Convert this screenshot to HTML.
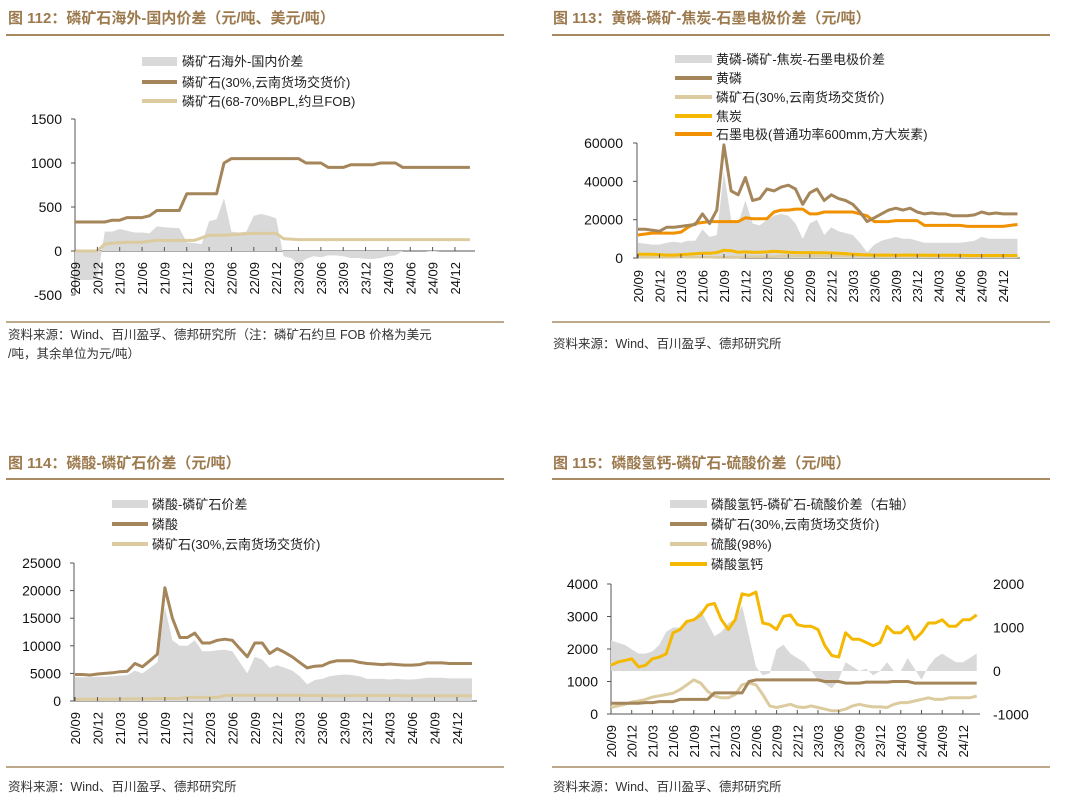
<!DOCTYPE html>
<html><head><meta charset="utf-8">
<style>
html,body{margin:0;padding:0;background:#fff;}
svg{display:block;font-family:"Liberation Sans","Noto Sans CJK SC",sans-serif;}
.ttl{font-size:15px;font-weight:bold;fill:#9c7a4e;}
.lg{font-size:13px;fill:#222;}
.src{font-size:12.5px;fill:#333;}
.tk{font-size:14px;fill:#111;}
.xl{font-size:13px;fill:#111;}
</style></head>
<body>
<svg id="root" width="1080" height="801" viewBox="0 0 1080 801">
<!-- Chart 112 -->
<text class="ttl" x="8" y="23">图 112：磷矿石海外-国内价差（元/吨、美元/吨）</text>
<line x1="6" y1="35" x2="504" y2="35" stroke="#a88b63" stroke-width="2"/>
<rect x="142" y="57" width="35" height="9" fill="#d9d9d9"/>
<text class="lg" x="182" y="66">磷矿石海外-国内价差</text>
<line x1="142" y1="82" x2="177" y2="82" stroke="#a5855a" stroke-width="4"/>
<text class="lg" x="182" y="87">磷矿石(30%,云南货场交货价)</text>
<line x1="142" y1="101" x2="177" y2="101" stroke="#dccb9f" stroke-width="4"/>
<text class="lg" x="182" y="106">磷矿石(68-70%BPL,约旦FOB)</text>
<line x1="6" y1="322" x2="504" y2="322" stroke="#a88b63" stroke-width="1.5"/>
<text class="src" x="8" y="339">资料来源：Wind、百川盈孚、德邦研究所（注：磷矿石约旦 FOB 价格为美元</text>
<text class="src" x="8" y="358">/吨，其余单位为元/吨）</text>

<!-- Chart 113 -->
<text class="ttl" x="553" y="23">图 113：黄磷-磷矿-焦炭-石墨电极价差（元/吨）</text>
<line x1="552" y1="35" x2="1050" y2="35" stroke="#a88b63" stroke-width="2"/>
<rect x="675" y="55" width="37" height="8" fill="#d9d9d9"/>
<text class="lg" x="716" y="64">黄磷-磷矿-焦炭-石墨电极价差</text>
<line x1="675" y1="78" x2="712" y2="78" stroke="#a5855a" stroke-width="4"/>
<text class="lg" x="716" y="83">黄磷</text>
<line x1="675" y1="97" x2="712" y2="97" stroke="#dccb9f" stroke-width="4"/>
<text class="lg" x="716" y="102">磷矿石(30%,云南货场交货价)</text>
<line x1="675" y1="116" x2="712" y2="116" stroke="#f5b800" stroke-width="4"/>
<text class="lg" x="716" y="121">焦炭</text>
<line x1="675" y1="134" x2="712" y2="134" stroke="#f29100" stroke-width="4"/>
<text class="lg" x="716" y="139">石墨电极(普通功率600mm,方大炭素)</text>
<line x1="552" y1="322" x2="1050" y2="322" stroke="#a88b63" stroke-width="1.5"/>
<text class="src" x="553" y="348">资料来源：Wind、百川盈孚、德邦研究所</text>

<!-- Chart 114 -->
<text class="ttl" x="8" y="468">图 114：磷酸-磷矿石价差（元/吨）</text>
<line x1="6" y1="479" x2="504" y2="479" stroke="#a88b63" stroke-width="2"/>
<rect x="112" y="500" width="36" height="8" fill="#d9d9d9"/>
<text class="lg" x="152" y="509">磷酸-磷矿石价差</text>
<line x1="112" y1="524" x2="148" y2="524" stroke="#a5855a" stroke-width="4"/>
<text class="lg" x="152" y="529">磷酸</text>
<line x1="112" y1="544" x2="148" y2="544" stroke="#dccb9f" stroke-width="4"/>
<text class="lg" x="152" y="549">磷矿石(30%,云南货场交货价)</text>
<line x1="6" y1="767" x2="504" y2="767" stroke="#a88b63" stroke-width="1.5"/>
<text class="src" x="8" y="791">资料来源：Wind、百川盈孚、德邦研究所</text>

<!-- Chart 115 -->
<text class="ttl" x="553" y="468">图 115：磷酸氢钙-磷矿石-硫酸价差（元/吨）</text>
<line x1="552" y1="479" x2="1050" y2="479" stroke="#a88b63" stroke-width="2"/>
<rect x="670" y="500" width="37" height="8" fill="#d9d9d9"/>
<text class="lg" x="711" y="509">磷酸氢钙-磷矿石-硫酸价差（右轴）</text>
<line x1="670" y1="524" x2="707" y2="524" stroke="#a5855a" stroke-width="4"/>
<text class="lg" x="711" y="529">磷矿石(30%,云南货场交货价)</text>
<line x1="670" y1="544" x2="707" y2="544" stroke="#dccb9f" stroke-width="4"/>
<text class="lg" x="711" y="549">硫酸(98%)</text>
<line x1="670" y1="564" x2="707" y2="564" stroke="#f5b800" stroke-width="4"/>
<text class="lg" x="711" y="569">磷酸氢钙</text>
<line x1="552" y1="767" x2="1050" y2="767" stroke="#a88b63" stroke-width="1.5"/>
<text class="src" x="553" y="791">资料来源：Wind、百川盈孚、德邦研究所</text>
</svg>

<script>
// ---- shared category labels ----
const monthLabels = ["20/09","20/12","21/03","21/06","21/09","21/12","22/03","22/06","22/09","22/12","23/03","23/06","23/09","23/12","24/03","24/06","24/09","24/12"];

// ---- Chart 112 data ----
const c1Ticks = [1500,1000,500,0,-500];
const c1Domestic = [330,330,330,330,330,350,350,380,380,380,400,460,460,460,460,650,650,650,650,650,1000,1050,1050,1050,1050,1050,1050,1050,1050,1050,1050,1000,1000,1000,950,950,950,980,980,980,980,1000,1000,1000,950,950,950,950,950,950,950,950,950,950];
const c1Fob = [0,0,0,0,80,90,95,100,100,100,110,120,120,120,120,120,120,150,180,180,180,185,190,195,200,200,200,200,140,135,130,130,130,130,130,130,130,130,130,130,130,130,130,130,130,130,130,130,130,130,130,130,130,130];
const c1Spread = [-320,-330,-330,-320,220,220,250,230,210,210,200,280,270,265,260,100,90,80,340,360,600,220,210,220,400,420,400,370,-60,-80,-150,-90,-60,-70,-50,-50,-60,-80,-80,-90,-90,-80,-60,-50,0,0,0,0,-10,0,0,0,0,0];

// ---- Chart 113 data ----
const c2Ticks = [60000,40000,20000,0];
const c2YellowP = [15000,15000,14500,14000,16000,16000,16500,17000,17500,23000,18000,25000,59000,35000,33000,42000,30000,31000,36000,35000,37000,38000,36000,28000,34000,36000,30000,33000,31000,30000,28000,24000,19000,21000,23000,25000,26000,25000,26000,24000,23000,23500,23000,23000,22000,22000,22000,22500,24000,23000,23500,23000,23000,23000];
const c2Electrode = [12000,12500,13000,13000,13000,13000,13500,16000,18000,18500,19000,19000,19000,19000,19000,21000,20500,20500,20500,24000,25000,25000,25500,25500,23000,23000,24000,24000,24000,24000,24000,23000,22000,19000,19000,19000,19500,19500,19500,19500,17000,17000,17000,17000,17000,17000,16500,16500,16500,16500,16500,16500,17000,17500];
const c2Coke = [2000,2000,2000,1800,1500,1500,1800,2000,2200,2500,2500,2800,4000,3800,3000,3200,3000,3000,3200,3500,3300,3000,2800,2800,2800,2700,2700,2600,2500,2300,2000,1800,1600,1500,1500,1500,1500,1500,1500,1500,1400,1400,1400,1400,1400,1400,1300,1300,1300,1300,1300,1300,1300,1300];
const c2Rock = [330,330,330,330,330,350,350,380,380,380,400,460,460,460,460,650,650,650,650,650,1000,1050,1050,1050,1050,1050,1050,1050,1050,1050,1050,1000,1000,1000,950,950,950,980,980,980,980,1000,1000,1000,950,950,950,950,950,950,950,950,950,950];
const c2Spread = [8000,7500,7000,7000,8000,8500,8000,9000,9000,15000,11000,12000,45000,20000,18000,30000,18000,17000,20000,22000,23000,22000,18000,10000,18000,20000,12000,16000,14000,13000,12000,8000,3000,7000,9000,10000,11000,10000,10000,9000,8000,8000,8000,8000,8000,8000,8500,9000,11000,10000,10000,10000,10000,10000];

// ---- Chart 114 data ----
const c3Ticks = [25000,20000,15000,10000,5000,0];
const c3Acid = [4800,4800,4700,4900,5000,5100,5300,5400,6800,6200,7300,8500,20500,15000,11500,11500,12300,10500,10500,11000,11200,11000,9500,8000,10500,10500,8600,9500,8800,8000,7000,6000,6300,6400,7000,7300,7300,7300,7000,6800,6700,6600,6700,6600,6500,6500,6600,6900,6900,6900,6800,6800,6800,6800];
const c3Rock = [330,330,330,330,330,350,350,380,380,380,400,460,460,460,460,650,650,650,650,650,1000,1050,1050,1050,1050,1050,1050,1050,1050,1050,1050,1000,1000,1000,950,950,950,980,980,980,980,1000,1000,1000,950,950,950,950,950,950,950,950,950,950];
const c3Spread = [4300,4300,4300,4400,4400,4500,4600,4700,5500,5000,6000,7000,17000,11000,10000,10000,11000,9000,9000,9200,9300,9000,7000,5000,8000,7500,6000,6500,6000,5500,4500,3000,3800,4000,4500,4700,4800,4700,4500,4000,4000,4000,3900,4000,3900,3900,4000,4200,4200,4200,4100,4100,4100,4100];

// ---- Chart 115 data ----
const c4TicksL = [4000,3000,2000,1000,0];
const c4TicksR = [2000,1000,0,-1000];
const c4Dcp = [1500,1600,1650,1700,1450,1500,1700,1750,1850,2500,2600,2850,2900,3050,3350,3400,2900,2600,2900,3700,3650,3750,2800,2750,2600,3000,3050,2750,2700,2700,2600,2100,1800,1750,2500,2300,2300,2200,2100,2200,2700,2500,2500,2700,2300,2500,2800,2800,2900,2700,2700,2900,2900,3050];
const c4Rock = [330,330,330,330,330,350,350,380,380,380,450,450,450,450,450,650,650,650,650,650,1000,1050,1050,1050,1050,1050,1050,1050,1050,1050,1050,1000,1000,1000,950,950,950,980,980,980,980,1000,1000,1000,950,950,950,950,950,950,950,950,950,950];
const c4Sulfuric = [200,250,300,370,400,450,520,560,600,640,750,900,1050,950,700,550,500,500,600,900,950,900,600,250,200,250,300,220,200,250,200,150,100,100,150,250,300,250,220,220,200,300,350,350,400,450,500,450,450,500,500,500,500,550];
const c4Spread = [700,650,600,500,400,400,450,600,900,1000,1000,1100,1200,1400,1100,800,900,1100,1200,1500,800,100,-100,-50,500,600,400,300,200,0,-200,-300,-400,-200,200,100,0,50,-100,0,200,0,0,300,50,-200,100,300,400,300,200,200,300,400];

const NS = "http://www.w3.org/2000/svg";
const root = document.getElementById("root");
function mk(tag, attrs){ const e=document.createElementNS(NS,tag); for(const k in attrs) e.setAttribute(k,attrs[k]); root.appendChild(e); return e; }

function linePath(vals, xf, yf){ return vals.map((v,i)=>(i?"L":"M")+xf(i).toFixed(1)+","+yf(v).toFixed(1)).join(""); }
function areaPath(vals, xf, yf, base){
  let d="M"+xf(0).toFixed(1)+","+base;
  vals.forEach((v,i)=>{ d+="L"+xf(i).toFixed(1)+","+yf(v).toFixed(1); });
  d+="L"+xf(vals.length-1).toFixed(1)+","+base+"Z"; return d;
}

function axes(prefix, ax, yTop, yBot, xAxisY, xEnd, xf, yf, ticks, lblX){
  let l = mk("line",{x1:ax,y1:yTop,x2:ax,y2:yBot,stroke:"#555","stroke-width":1});
  
  
  ticks.forEach(t=>{
    const tk = mk("line",{x1:ax-4,y1:yf(t),x2:ax,y2:yf(t),stroke:"#555"});
    
    
    const tx = mk("text",{x:lblX,y:yf(t)+5,"text-anchor":"end",class:"tk"});
    tx.textContent = t;
    
    
  });
  const xa = mk("line",{x1:ax,y1:xAxisY,x2:xEnd,y2:xAxisY,stroke:"#555"});
  
  
}
function xLabels(prefix, xf, axisY, labelTop){
  monthLabels.forEach((m,k)=>{
    const x = xf(k*3);
    const tk = mk("line",{x1:x,y1:axisY,x2:x,y2:axisY-4,stroke:"#555"});
    
    
    const t = mk("text",{x:0,y:0,"text-anchor":"end",class:"xl",transform:"translate("+(x+5)+","+labelTop+") rotate(-90)"});
    t.textContent = m;
    
    
  });
}
function series(prefix, name, d, color, w, fill){
  const p = mk("path", fill ? {d:d, fill:color, stroke:"none"} : {d:d, fill:"none", stroke:color, "stroke-width":w, "stroke-linejoin":"round"});
  
  
}

// Chart 112
(function(){
  const xf=i=>75+i*7.45, yf=v=>251-v*132/1500;
  axes("chart112",75,119,295,251,475,xf,yf,c1Ticks,62);
  series("chart112","spread-area",areaPath(c1Spread,xf,yf,251),"#d9d9d9",0,true);
  series("chart112","fob-line",linePath(c1Fob,xf,yf),"#dccb9f",3);
  series("chart112","domestic-line",linePath(c1Domestic,xf,yf),"#a5855a",3);
  xLabels("chart112",xf,251,262);
})();
// Chart 113
(function(){
  const xf=i=>638+i*7.16, yf=v=>258-v*115/60000;
  axes("chart113",637,143,258,258,1020,xf,yf,c2Ticks,623);
  series("chart113","spread-area",areaPath(c2Spread,xf,yf,258),"#d9d9d9",0,true);
  series("chart113","rock-line",linePath(c2Rock,xf,yf),"#dccb9f",2.5);
  series("chart113","coke-line",linePath(c2Coke,xf,yf),"#f5b800",3);
  series("chart113","electrode-line",linePath(c2Electrode,xf,yf),"#f29100",3);
  series("chart113","yellow-phosphorus-line",linePath(c2YellowP,xf,yf),"#a5855a",3);
  xLabels("chart113",xf,258,270);
})();
// Chart 114
(function(){
  const xf=i=>75+i*7.49, yf=v=>701-v*138/25000;
  axes("chart114",74,563,701,701,477,xf,yf,c3Ticks,61);
  series("chart114","spread-area",areaPath(c3Spread,xf,yf,701),"#d9d9d9",0,true);
  series("chart114","rock-line",linePath(c3Rock,xf,yf),"#dccb9f",3);
  series("chart114","acid-line",linePath(c3Acid,xf,yf),"#a5855a",3);
  xLabels("chart114",xf,701,712);
})();
// Chart 115
(function(){
  const xf=i=>611+i*6.9, yf=v=>714-v*130/4000, yr=v=>671-v*87/2000;
  axes("chart115",611,584,714,714,980,xf,yf,c4TicksL,598);
  c4TicksR.forEach(t=>{
    const tx = mk("text",{x:993,y:yr(t)+5,class:"tk"});
    tx.textContent = t;
    
    
  });
  series("chart115","spread-area",areaPath(c4Spread,xf,yr,671),"#d9d9d9",0,true);
  series("chart115","sulfuric-line",linePath(c4Sulfuric,xf,yf),"#dccb9f",3);
  series("chart115","rock-line",linePath(c4Rock,xf,yf),"#a5855a",3);
  series("chart115","dcp-line",linePath(c4Dcp,xf,yf),"#f5b800",3);
  xLabels("chart115",xf,714,725);
})();
</script>
</body></html>
